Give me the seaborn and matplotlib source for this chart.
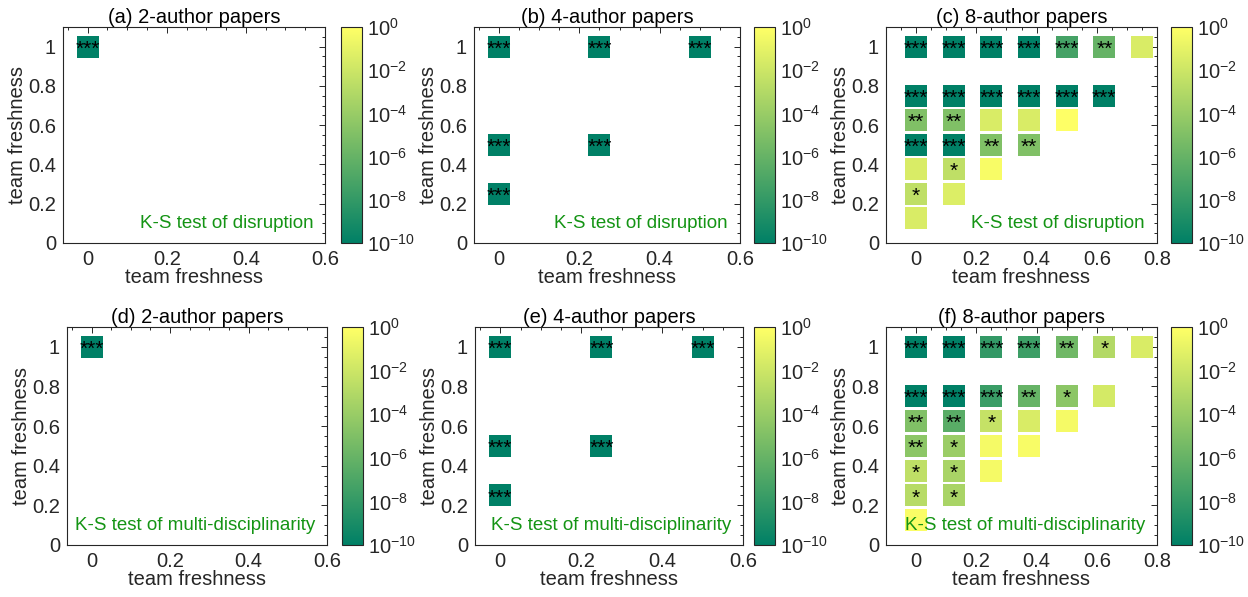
import numpy as np
import pandas as pd
import matplotlib
matplotlib.use('Agg')
import matplotlib.pyplot as plt
import seaborn as sns
from matplotlib.colors import LogNorm
from matplotlib.cm import ScalarMappable
from matplotlib.ticker import AutoMinorLocator, MultipleLocator

sns.set_style('white')
plt.rcParams['font.family'] = ['Liberation Sans', 'DejaVu Sans']

# 2-author papers
x2 = [0]
y2 = [1]
p2_dis = [1e-10]
s2_dis = ['***']
p2_mul = [1e-10]
s2_mul = ['***']

# 4-author papers
x4 = [0, 0.25, 0.5, 0, 0.25, 0]
y4 = [1, 1, 1, 0.5, 0.5, 0.25]
p4_dis = [1e-10, 1e-10, 1e-10, 1e-10, 1e-10, 1e-10]
s4_dis = ['***', '***', '***', '***', '***', '***']
p4_mul = [1e-10, 1e-10, 1e-10, 1e-10, 1e-10, 1e-10]
s4_mul = ['***', '***', '***', '***', '***', '***']

# 8-author papers
x8 = [0, 0.125, 0.25, 0.375, 0.5, 0.625, 0.75,
      0, 0.125, 0.25, 0.375, 0.5, 0.625,
      0, 0.125, 0.25, 0.375, 0.5,
      0, 0.125, 0.25, 0.375,
      0, 0.125, 0.25,
      0, 0.125,
      0]
y8 = [1, 1, 1, 1, 1, 1, 1,
      0.75, 0.75, 0.75, 0.75, 0.75, 0.75,
      0.625, 0.625, 0.625, 0.625, 0.625,
      0.5, 0.5, 0.5, 0.5,
      0.375, 0.375, 0.375,
      0.25, 0.25,
      0.125]
p8_dis = [1e-10, 1e-10, 1e-10, 1e-10, 5e-8, 1e-6, 3e-2,
          1e-10, 1e-10, 1e-10, 1e-10, 1e-10, 1e-10,
          1e-5, 1e-5, 3e-2, 3e-2, 0.9,
          1e-10, 1e-10, 1e-5, 1e-5,
          3e-2, 3e-3, 0.5,
          3e-3, 4e-2,
          3e-2]
s8_dis = ['***', '***', '***', '***', '***', '**', '',
          '***', '***', '***', '***', '***', '***',
          '**', '**', '', '', '',
          '***', '***', '**', '**',
          '', '*', '',
          '*', '',
          '']
p8_mul = [1e-10, 1e-10, 1e-8, 2.5e-8, 2.5e-6, 1e-3, 3e-2,
          1e-10, 1e-10, 2e-8, 1e-6, 3e-5, 2e-2,
          1e-5, 3e-7, 5e-3, 3e-2, 0.4,
          3e-5, 1.2e-4, 0.4, 0.5,
          3e-3, 4e-4, 0.4,
          1.5e-3, 4e-4,
          0.6]
s8_mul = ['***', '***', '***', '***', '**', '*', '',
          '***', '***', '***', '**', '*', '',
          '**', '**', '*', '', '',
          '**', '*', '', '',
          '*', '*', '',
          '*', '*',
          '']

titles = ['(a) 2-author papers', '(b) 4-author papers', '(c) 8-author papers',
          '(d) 2-author papers', '(e) 4-author papers', '(f) 8-author papers']
notes = ['K-S test of disruption'] * 3 + ['K-S test of multi-disciplinarity'] * 3
cbar_ticks = [1e-10, 1e-8, 1e-6, 1e-4, 1e-2, 1e0]

panels = [(x2, y2, p2_dis, s2_dis), (x4, y4, p4_dis, s4_dis), (x8, y8, p8_dis, s8_dis),
          (x2, y2, p2_mul, s2_mul), (x4, y4, p4_mul, s4_mul), (x8, y8, p8_mul, s8_mul)]
xmax = [0.6, 0.6, 0.8, 0.6, 0.6, 0.8]
xmin = [-0.0625, -0.0625, -0.1, -0.0625, -0.0625, -0.1]

# layout in pixels (left, top, width, bottom)
W, H = 1248, 597
ax_px = [(63, 27, 262, 243), (474, 27, 266, 243), (886, 27, 271, 243),
         (67, 327, 260, 545), (475, 327, 268, 545), (886, 327, 271, 545)]
cb_px = [341, 754, 1171, 342, 754, 1171]

dark = '#262626'
norm = LogNorm(vmin=1e-10, vmax=1)
fs = 14.5

fig = plt.figure(figsize=(W / 100, H / 100), dpi=100)

for i, (xs, ys, ps, stars) in enumerate(panels):
    l, t, w, b = ax_px[i]
    ax = fig.add_axes([l / W, 1 - b / H, w / W, (b - t) / H])
    df = pd.DataFrame({'x': xs, 'y': ys, 'p': ps})
    sns.scatterplot(data=df, x='x', y='y', hue='p', hue_norm=norm, palette='summer',
                    marker='s', s=250, linewidth=0, legend=False, ax=ax, zorder=3)
    for xv, yv, st in zip(xs, ys, stars):
        if st:
            ax.text(xv, yv - 0.012, st, ha='center', va='center', fontsize=15,
                    color='black', zorder=4)
    ax.set_xlim(xmin[i], xmax[i])
    ax.set_ylim(0, 1.1)
    ax.xaxis.set_major_locator(MultipleLocator(0.2))
    ax.yaxis.set_major_locator(MultipleLocator(0.2))
    ax.xaxis.set_major_formatter(plt.FuncFormatter(lambda v, pos: f'{v:g}'))
    ax.yaxis.set_major_formatter(plt.FuncFormatter(lambda v, pos: f'{v:g}'))
    ax.xaxis.set_minor_locator(AutoMinorLocator(4))
    ax.yaxis.set_minor_locator(AutoMinorLocator(4))
    ax.tick_params(which='both', direction='in', top=True, right=True, colors=dark,
                   labelsize=fs, width=0.7)
    ax.tick_params(which='major', length=4, pad=5)
    ax.tick_params(which='minor', length=2)
    for sp in ax.spines.values():
        sp.set_color(dark)
        sp.set_linewidth(0.8)
    ax.set_xlabel('team freshness', fontsize=fs, color=dark, labelpad=-1)
    ax.set_ylabel('team freshness', fontsize=fs, color=dark, labelpad=1)
    ax.set_title(titles[i], fontsize=fs, color='black', pad=3)
    ax.text(0.955, 0.07, notes[i], transform=ax.transAxes, ha='right', va='baseline',
            fontsize=13.5, color='#149414', zorder=5)

    cax = fig.add_axes([cb_px[i] / W, 1 - b / H, 21 / W, (b - t) / H])
    sm = ScalarMappable(norm=norm, cmap='summer')
    cb = fig.colorbar(sm, cax=cax, ticks=cbar_ticks)
    cax.minorticks_off()
    cax.tick_params(direction='in', length=3, labelsize=fs, colors=dark, width=0.7)
    cb.outline.set_edgecolor(dark)
    cb.outline.set_linewidth(0.8)

fig.savefig('out.png', dpi=100)
